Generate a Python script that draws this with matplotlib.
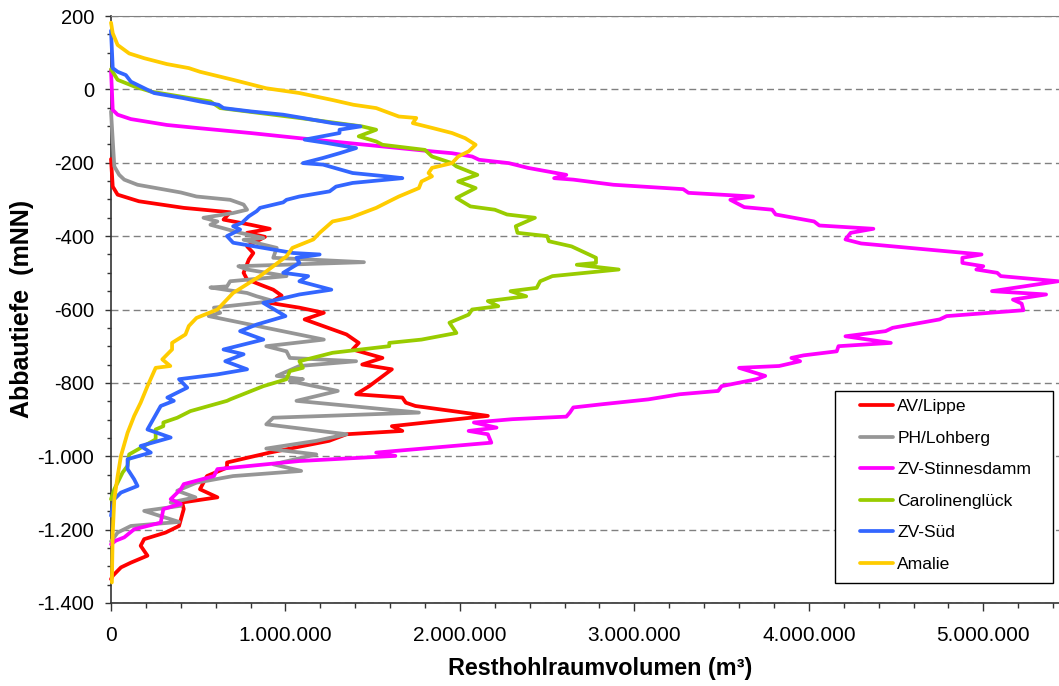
import numpy as np
import matplotlib
matplotlib.use("Agg")
import matplotlib.pyplot as plt
from matplotlib.ticker import MultipleLocator, FuncFormatter
from matplotlib.patches import Rectangle

# Abbautiefe in mNN, Resthohlraumvolumen in Mio. m³
av_d = [-190, -265, -287, -305, -323, -335, -355, -369, -380, -391,
        -402, -428, -446, -464, -500, -518, -532, -546, -562, -582,
        -595, -609, -627, -668, -691, -709, -732, -750, -763, -809,
        -831, -840, -854, -863, -890, -918, -931, -940, -958, -990,
        -1017, -1031, -1054, -1090, -1112, -1126, -1144, -1190, -1208, -1226,
        -1244, -1271, -1290, -1303, -1326, -1335]
av_v = [0.0, 0.01, 0.038, 0.16, 0.417, 0.683, 0.645, 0.80, 0.91, 0.78,
        0.883, 0.78, 0.816, 0.79, 0.76, 0.78, 0.854, 0.93, 0.978, 0.91,
        1.08, 1.22, 1.11, 1.35, 1.42, 1.385, 1.556, 1.44, 1.61, 1.48,
        1.405, 1.67, 1.69, 1.745, 2.16, 1.61, 1.67, 1.35, 1.25, 0.91,
        0.665, 0.665, 0.55, 0.51, 0.61, 0.408, 0.417, 0.39, 0.313, 0.19,
        0.17, 0.209, 0.114, 0.057, 0.01, 0.0]

ph_d = [-60, -210, -233, -246, -260, -281, -292, -301, -314, -328,
        -337, -350, -360, -369, -391, -405, -410, -432, -459, -471,
        -482, -491, -509, -523, -537, -540, -555, -564, -577, -595,
        -609, -618, -650, -682, -700, -714, -732, -741, -754, -781,
        -790, -795, -822, -849, -881, -895, -913, -940, -958, -979,
        -995, -1022, -1040, -1054, -1072, -1094, -1112, -1126, -1135, -1149,
        -1179, -1190, -1208, -1226, -1232]
ph_v = [0.0, 0.019, 0.047, 0.076, 0.152, 0.40, 0.49, 0.683, 0.76, 0.78,
        0.70, 0.53, 0.61, 0.57, 0.74, 0.873, 0.76, 0.95, 0.93, 1.45,
        0.73, 0.78, 1.006, 0.683, 0.665, 0.57, 0.78, 0.835, 0.93, 0.59,
        0.626, 0.56, 0.89, 1.22, 0.89, 1.006, 1.025, 1.405, 1.08, 0.95,
        1.10, 1.025, 1.30, 1.063, 1.765, 0.93, 0.89, 1.35, 1.177, 0.89,
        1.177, 0.93, 1.09, 0.70, 0.49, 0.38, 0.484, 0.342, 0.40, 0.19,
        0.39, 0.114, 0.038, 0.01, 0.0]

st_d = [53, -56, -69, -81, -97, -106, -119, -133, -151, -169,
        -174, -183, -192, -201, -214, -233, -242, -246, -260, -272,
        -282, -292, -301, -321, -328, -341, -360, -371, -380, -391,
        -409, -420, -450, -459, -473, -482, -491, -500, -509, -523,
        -550, -559, -573, -584, -602, -618, -627, -650, -659, -673,
        -691, -700, -714, -725, -732, -741, -754, -759, -781, -790,
        -809, -822, -831, -845, -858, -867, -881, -892, -899, -908,
        -922, -931, -940, -963, -990, -999, -1013, -1035, -1054, -1076,
        -1090, -1117, -1130, -1144, -1181, -1199, -1221, -1230, -1240]
st_v = [0.0, 0.01, 0.038, 0.114, 0.32, 0.51, 0.80, 1.08, 1.46, 1.84,
        1.955, 2.07, 2.11, 2.28, 2.39, 2.61, 2.54, 2.65, 2.88, 3.28,
        3.31, 3.68, 3.55, 3.63, 3.79, 3.81, 4.03, 4.06, 4.37, 4.24,
        4.21, 4.30, 4.99, 4.88, 4.88, 5.00, 4.96, 5.08, 5.10, 5.43,
        5.05, 5.36, 5.17, 5.22, 5.23, 4.79, 4.75, 4.48, 4.44, 4.21,
        4.47, 4.17, 4.16, 3.97, 3.90, 3.95, 3.83, 3.60, 3.75, 3.70,
        3.50, 3.48, 3.26, 3.08, 2.82, 2.65, 2.63, 2.61, 2.30, 2.08,
        2.21, 2.05, 2.16, 2.18, 1.52, 1.63, 1.08, 0.61, 0.59, 0.417,
        0.40, 0.342, 0.40, 0.30, 0.285, 0.133, 0.076, 0.028, 0.0]

cg_d = [55, 26, 8, -6, -33, -51, -78, -101, -110, -128,
        -142, -151, -165, -183, -201, -210, -233, -251, -269, -296,
        -319, -328, -341, -350, -373, -391, -400, -414, -428, -459,
        -473, -478, -491, -509, -523, -541, -550, -564, -577, -591,
        -600, -614, -636, -664, -682, -691, -700, -718, -741, -759,
        -768, -790, -809, -845, -849, -877, -895, -908, -918, -927,
        -954, -995, -1026, -1044, -1090, -1117]
cg_v = [0.0, 0.038, 0.133, 0.228, 0.57, 0.626, 1.08, 1.44, 1.52, 1.42,
        1.52, 1.556, 1.80, 1.84, 1.955, 1.98, 2.10, 1.99, 2.09, 1.98,
        2.06, 2.20, 2.27, 2.43, 2.32, 2.33, 2.50, 2.51, 2.64, 2.78,
        2.78, 2.67, 2.91, 2.53, 2.46, 2.44, 2.29, 2.38, 2.16, 2.22,
        2.07, 2.05, 1.94, 1.98, 1.78, 1.595, 1.595, 1.27, 1.08, 1.10,
        1.025, 1.006, 0.873, 0.683, 0.665, 0.455, 0.38, 0.30, 0.30, 0.256,
        0.256, 0.104, 0.095, 0.067, 0.019, 0.0]

sd_d = [160, 58, 48, 39, 21, 8, -10, -24, -33, -42,
        -51, -60, -69, -78, -92, -101, -110, -119, -137, -146,
        -160, -174, -187, -201, -205, -228, -237, -242, -255, -265,
        -278, -292, -301, -308, -323, -332, -346, -364, -373, -382,
        -400, -418, -432, -446, -450, -459, -473, -500, -509, -523,
        -546, -559, -582, -618, -641, -659, -682, -709, -722, -741,
        -763, -777, -790, -813, -840, -849, -863, -927, -949, -972,
        -990, -1008, -1035, -1063, -1081, -1099, -1117, -1162]
sd_v = [0.0, 0.01, 0.038, 0.085, 0.114, 0.17, 0.247, 0.417, 0.51, 0.617,
        0.645, 0.80, 0.987, 1.10, 1.27, 1.43, 1.31, 1.31, 1.11, 1.234,
        1.405, 1.31, 1.215, 1.10, 1.215, 1.385, 1.576, 1.67, 1.385, 1.29,
        1.253, 1.08, 1.006, 0.987, 0.854, 0.835, 0.79, 0.75, 0.70, 0.74,
        0.665, 0.70, 0.873, 1.044, 1.196, 1.063, 1.08, 0.987, 1.13, 1.08,
        1.263, 1.08, 0.873, 1.0, 0.835, 0.74, 0.873, 0.645, 0.76, 0.655,
        0.78, 0.608, 0.39, 0.437, 0.323, 0.36, 0.285, 0.209, 0.342, 0.17,
        0.228, 0.095, 0.095, 0.133, 0.152, 0.057, 0.019, 0.0]

am_d = [182, 153, 121, 98, 85, 69, 58, 48, 26, 3,
        -10, -29, -42, -51, -74, -78, -92, -105, -119, -133,
        -151, -169, -183, -201, -214, -228, -237, -251, -269, -292,
        -305, -323, -350, -360, -391, -409, -432, -455, -482, -509,
        -555, -600, -623, -645, -668, -691, -709, -736, -754, -759,
        -809, -854, -890, -936, -999, -1054, -1117, -1208, -1344]
am_v = [0.0, 0.01, 0.038, 0.104, 0.19, 0.32, 0.446, 0.51, 0.70, 0.89,
        1.08, 1.27, 1.39, 1.52, 1.65, 1.75, 1.73, 1.84, 1.955, 2.03,
        2.09, 2.05, 1.99, 1.955, 1.84, 1.82, 1.84, 1.78, 1.765, 1.65,
        1.595, 1.52, 1.37, 1.27, 1.196, 1.16, 1.04, 1.006, 0.93, 0.854,
        0.70, 0.61, 0.49, 0.446, 0.427, 0.35, 0.35, 0.294, 0.34, 0.256,
        0.209, 0.17, 0.133, 0.095, 0.057, 0.038, 0.019, 0.01, 0.005]

names = ["AV/Lippe", "PH/Lohberg", "ZV-Stinnesdamm", "Carolinenglück", "ZV-Süd", "Amalie"]
depths = [av_d, ph_d, st_d, cg_d, sd_d, am_d]
volumes = [av_v, ph_v, st_v, cg_v, sd_v, am_v]
colors = ["#FF0000", "#969696", "#FF00FF", "#99CC00", "#3366FF", "#FFCC00"]

plt.rcParams['font.family'] = ['Liberation Sans', 'DejaVu Sans']


def de_fmt(v, pos):
    return f"{v:,.0f}".replace(",", ".")


W, H = 1059, 686
fig = plt.figure(figsize=(W / 100, H / 100), dpi=100)
ax = fig.add_axes([111 / W, 1 - 603 / H, 1 - 111 / W, (603 - 16) / H])

handles = []
for name, d, v, c in zip(names, depths, volumes, colors):
    ln, = ax.plot(np.array(v) * 1e6, d, color=c, lw=2.7, label=name,
                  solid_joinstyle='round', solid_capstyle='round',
                  clip_on=False, zorder=3)
    handles.append(ln)

ax.set_xlim(0, 5.434e6)
ax.set_ylim(-1400, 200)
ax.xaxis.set_major_locator(MultipleLocator(1e6))
ax.xaxis.set_minor_locator(MultipleLocator(2e5))
ax.yaxis.set_major_locator(MultipleLocator(200))
ax.yaxis.set_minor_locator(MultipleLocator(50))
ax.xaxis.set_major_formatter(FuncFormatter(de_fmt))
ax.yaxis.set_major_formatter(FuncFormatter(de_fmt))

ax.yaxis.grid(True, which='major', color='#808080', lw=1, linestyle=(0, (5, 3)))
ax.set_axisbelow(True)

ax.spines['right'].set_visible(False)
ax.spines['top'].set_color('#808080')
for s in ('left', 'bottom'):
    ax.spines[s].set_color('#333333')
    ax.spines[s].set_linewidth(1.2)

ax.tick_params(axis='x', which='major', direction='out', length=6, width=1,
               color='#333333', labelsize=15, pad=10.5)
ax.tick_params(axis='x', which='minor', direction='out', length=3.6, width=1, color='#333333')
ax.tick_params(axis='y', which='major', direction='out', length=4, width=1,
               color='#333333', labelsize=14.5, pad=8)
ax.tick_params(axis='y', which='minor', direction='out', length=3, width=1, color='#333333')

ax.set_xlabel("Resthohlraumvolumen (m³)", fontsize=16.8, fontweight='bold')
ax.xaxis.label.set_va('center')
ax.xaxis.set_label_coords((600 - 111) / 948, (603 - 668) / 587)
ax.set_ylabel("Abbautiefe  (mNN)", fontsize=18, fontweight='bold')
ax.yaxis.label.set_va('center')
ax.yaxis.set_label_coords((22.5 - 111) / 948, (603 - 308.5) / 587)

# legend frame as in the original (wider side padding)
fig.add_artist(Rectangle((835 / W, 1 - 583 / H), 218 / W, 192 / H,
                         transform=fig.transFigure, facecolor='white',
                         edgecolor='black', lw=1, zorder=4))
fig.legend(handles, names, loc='upper left', bbox_to_anchor=(853 / W, 1 - 392 / H),
           frameon=False, fontsize=12.6, handlelength=1.9, handletextpad=0.23,
           labelspacing=0.93, borderpad=0.4, borderaxespad=0)

fig.savefig("out.png", dpi=100)
